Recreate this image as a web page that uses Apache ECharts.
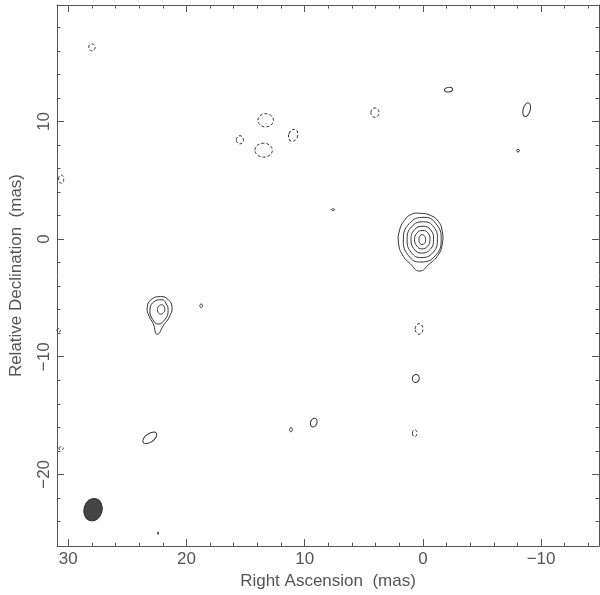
<!DOCTYPE html>
<html>
<head>
<meta charset="utf-8">
<script src="https://cdn.jsdelivr.net/npm/echarts@6.0.0/dist/echarts.min.js"></script>
<style>
html,body{margin:0;padding:0;background:#fff;}
#chart{width:600px;height:595px;}
</style>
</head>
<body>
<div id="chart"></div>
<script>
// ---- Axis ticks (mas) ----
const raTicks = [30, 20, 10, 0, -10];
const raMinorTicks = [28, 26, 24, 22, 18, 16, 14, 12, 8, 6, 4, 2, -2, -4, -6, -8, -12, -14];
const decTicks = [10, 0, -10, -20];
const decMinorTicks = [18, 16, 14, 12, 8, 6, 4, 2, -2, -4, -6, -8, -12, -14, -16, -18, -22, -24];
const raLimits = [-14.9, 30.95];
const decLimits = [-26.1, 19.9];

// ---- Core component contours: [RA, Dec] points (mas) ----
const coreRing1 = [[0.21, 2.19], [-0.63, 2.02], [-1.30, 1.52], [-1.64, 0.67], [-1.64, -0.42], [-1.30, -1.35], [-0.55, -2.11], [0.29, -2.72], [1.05, -2.11], [1.72, -1.35], [2.06, -0.34], [1.97, 0.76], [1.55, 1.60], [0.97, 2.11]];
const coreRing2 = [[-0.10, 1.85], [-1.10, 1.32], [-1.55, -0.05], [-1.05, -1.42], [0.20, -1.95], [1.20, -1.42], [1.65, -0.05], [1.15, 1.32]];
const coreRing3 = [[-0.05, 1.47], [-0.90, 1.05], [-1.23, -0.05], [-0.85, -1.15], [0.15, -1.57], [0.97, -1.15], [1.33, -0.05], [0.95, 1.05]];
const coreRing4 = [[0.00, 1.09], [-0.66, 0.78], [-0.90, -0.05], [-0.62, -0.87], [0.12, -1.19], [0.72, -0.87], [1.00, -0.05], [0.72, 0.78]];
const coreRing5 = [[0.02, 0.73], [-0.43, 0.52], [-0.60, -0.05], [-0.40, -0.60], [0.10, -0.83], [0.50, -0.60], [0.70, -0.05], [0.50, 0.52]];
const coreRing6 = [[0.05, 0.37], [-0.15, 0.25], [-0.23, -0.05], [-0.15, -0.35], [0.07, -0.47], [0.25, -0.35], [0.33, -0.05], [0.25, 0.25]];

// ---- Secondary component contours ----
const knotRing1 = [[22.18, -4.89], [21.55, -5.14], [21.22, -5.81], [21.47, -6.66], [21.89, -7.25], [22.48, -8.10], [22.82, -7.16], [23.15, -6.57], [23.32, -5.81], [22.98, -5.14]];
const knotRing2 = [[22.06, -5.16], [21.76, -5.42], [21.55, -6.07], [21.81, -6.82], [22.39, -7.22], [22.86, -6.82], [23.09, -6.07], [22.82, -5.39]];
const knotRing3 = [[22.10, -5.59], [21.91, -5.70], [21.83, -5.98], [21.93, -6.26], [22.18, -6.38], [22.37, -6.26], [22.45, -5.98], [22.35, -5.70]];

// ---- Small positive islands: [RA, Dec, semiRA, semiDec, tilt deg] ----
const positiveIslands = [
  [-2.17, 12.70, 0.34, 0.20, 10],
  [-8.78, 11.00, 0.30, 0.60, -15],
  [-8.05, 7.52, 0.12, 0.12, 0],
  [7.60, 2.50, 0.14, 0.08, 0],
  [18.75, -5.67, 0.12, 0.15, 0],
  [23.10, -16.90, 0.68, 0.36, 35],
  [11.16, -16.20, 0.11, 0.19, 0],
  [9.23, -15.60, 0.27, 0.38, -20],
  [0.60, -11.85, 0.29, 0.34, -10],
  [22.40, -25.00, 0.04, 0.11, 0]
];

// ---- Negative (dashed) islands ----
const negativeIslands = [
  [28.00, 16.30, 0.27, 0.30, 0],
  [30.60, 5.10, 0.22, 0.35, 0],
  [30.80, -7.75, 0.15, 0.15, 0],
  [30.60, -17.80, 0.18, 0.15, 0],
  [13.30, 10.10, 0.66, 0.56, 0],
  [13.47, 7.56, 0.74, 0.59, 0],
  [15.48, 8.44, 0.30, 0.35, 0],
  [10.97, 8.82, 0.38, 0.53, -20],
  [4.05, 10.75, 0.35, 0.40, 0],
  [0.32, -7.64, 0.33, 0.45, 0],
  [0.69, -16.50, 0.20, 0.30, 0]
];

// ---- Restoring beam ----
const beam = [[27.90, -23.00, 0.77, 0.96, -15]];

const coreRings = [coreRing1, coreRing2, coreRing3, coreRing4, coreRing5, coreRing6];
const knotRings = [knotRing1, knotRing2, knotRing3];

const lineCol = '#333';
const axisCol = '#555';
const font = 'Liberation Sans';

function contourSeries(rings) {
  return {
    type: 'custom', coordinateSystem: 'cartesian2d', xAxisIndex: 0, yAxisIndex: 0,
    clip: true, silent: true,
    data: rings.map((r, i) => [r[0][0], r[0][1], i]),
    encode: { x: 0, y: 1 },
    renderItem: function (params, api) {
      const ring = rings[api.value(2)];
      return {
        type: 'polygon',
        shape: { points: ring.map(p => api.coord(p)), smooth: 0.5 },
        style: { fill: 'none', stroke: lineCol, lineWidth: 1 }
      };
    }
  };
}

function ellipseSeries(items, style) {
  return {
    type: 'custom', coordinateSystem: 'cartesian2d', xAxisIndex: 0, yAxisIndex: 0,
    clip: true, silent: true,
    data: items,
    encode: { x: 0, y: 1 },
    renderItem: function (params, api) {
      const x = api.value(0), y = api.value(1);
      const c = api.coord([x, y]);
      const s = api.size([api.value(2), api.value(3)], [x, y]);
      return {
        type: 'ellipse',
        x: c[0], y: c[1],
        rotation: api.value(4) * Math.PI / 180,
        shape: { cx: 0, cy: 0, rx: s[0], ry: s[1] },
        style: style
      };
    }
  };
}

const fmt = v => v < 0 ? '\u2212' + Math.abs(v) : String(v);

function xAx(pos, ticks, len, showLine, labels, name) {
  return {
    type: 'value', position: pos, inverse: true,
    min: raLimits[0], max: raLimits[1],
    name: name || '', nameLocation: 'middle', nameGap: 22,
    nameTextStyle: { fontFamily: font, fontSize: 17, color: axisCol },
    axisLine: { show: showLine, onZero: false, lineStyle: { color: axisCol, width: 1 } },
    axisTick: { show: true, inside: true, length: len, customValues: ticks, lineStyle: { color: axisCol, width: 1 } },
    axisLabel: labels ? { show: true, customValues: ticks, margin: 5, fontFamily: font, fontSize: 17, color: axisCol, formatter: fmt } : { show: false },
    splitLine: { show: false }
  };
}
function yAx(pos, ticks, len, showLine, labels, name) {
  return {
    type: 'value', position: pos,
    min: decLimits[0], max: decLimits[1],
    name: name || '', nameLocation: 'middle', nameGap: 32, nameRotate: 90,
    nameTextStyle: { fontFamily: font, fontSize: 17, color: axisCol },
    axisLine: { show: showLine, onZero: false, lineStyle: { color: axisCol, width: 1 } },
    axisTick: { show: true, inside: true, length: len, customValues: ticks, lineStyle: { color: axisCol, width: 1 } },
    axisLabel: labels ? { show: true, customValues: ticks, rotate: 90, margin: 4, fontFamily: font, fontSize: 17, color: axisCol, formatter: fmt } : { show: false },
    splitLine: { show: false }
  };
}

const chart = echarts.init(document.getElementById('chart'), null, { renderer: 'canvas' });
chart.setOption({
  animation: false,
  backgroundColor: '#fff',
  grid: { left: 53, right: 1, top: 5, bottom: 44, containLabel: false },
  xAxis: [
    xAx('bottom', raTicks, 7, true, true, 'Right Ascension  (mas)'),
    xAx('bottom', raMinorTicks, 3.5, false, false),
    xAx('top', raTicks, 7, true, false),
    xAx('top', raMinorTicks, 3.5, false, false)
  ],
  yAxis: [
    yAx('left', decTicks, 7, true, true, 'Relative Declination  (mas)'),
    yAx('left', decMinorTicks, 3.5, false, false),
    yAx('right', decTicks, 7, true, false),
    yAx('right', decMinorTicks, 3.5, false, false)
  ],
  series: [
    contourSeries(coreRings),
    contourSeries(knotRings),
    ellipseSeries(positiveIslands, { fill: 'none', stroke: lineCol, lineWidth: 1 }),
    ellipseSeries(negativeIslands, { fill: 'none', stroke: lineCol, lineWidth: 1, lineDash: [3, 2] }),
    ellipseSeries(beam, { fill: '#444', stroke: '#333', lineWidth: 1 })
  ]
});
</script>
</body>
</html>
